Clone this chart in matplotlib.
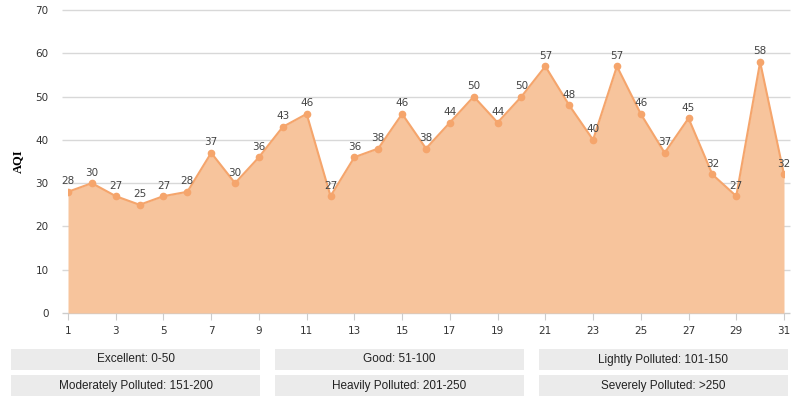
import matplotlib.pyplot as plt
from matplotlib.patches import Rectangle

# daily AQI values
days = list(range(1, 32))
aqi = [28, 30, 27, 25, 27, 28, 37, 30, 36, 43, 46, 27, 36, 38, 46, 38,
       44, 50, 44, 50, 57, 48, 40, 57, 46, 37, 45, 32, 27, 58, 32]
xticks = list(range(1, 32, 2))
yticks = list(range(0, 71, 10))

# legend boxes below chart
levels = ["Excellent: 0-50", "Good: 51-100", "Lightly Polluted: 101-150",
          "Moderately Polluted: 151-200", "Heavily Polluted: 201-250",
          "Severely Polluted: >250"]

line_col = "#F5A56C"
fill_col = "#F7C49C"

fig = plt.figure(figsize=(8, 4), dpi=100)
ax = fig.add_axes([0.085, 0.2175, 0.895, 0.7575])

ax.fill_between(days, aqi, 0, color=fill_col, linewidth=0)
ax.plot(days, aqi, color=line_col, linewidth=1.5, marker="o", markersize=4.5)
for d, v in zip(days, aqi):
    ax.annotate(str(v), (d, v), xytext=(0, 4), textcoords="offset points",
                ha="center", va="bottom", fontsize=7.5, color="#444444")

ax.set_xlim(1, 31)
ax.set_ylim(0, 70)
ax.set_xticks(xticks)
ax.set_yticks(yticks)
# grid lines run a little past the plot on the left
ax.hlines(yticks[1:], 0.75, 31.25, color="#d8d8d8", linewidth=1, zorder=0,
          clip_on=False)
ax.hlines(0, 0.75, 31.25, color="#cccccc", linewidth=1, zorder=0, clip_on=False)

for s in ax.spines.values():
    s.set_visible(False)
ax.tick_params(axis="y", length=0, labelsize=7.5, colors="#333333", pad=14)
ax.tick_params(axis="x", length=5, color="#cccccc", labelsize=7.5,
               labelcolor="#333333", pad=4)
ax.set_ylabel("AQI", fontsize=9, fontweight="bold", family="Liberation Serif",
              labelpad=8)

# level boxes
box_w, box_h = 249 / 800, 21 / 400
xs = [11 / 800, 275 / 800, 539 / 800]
ys = [1 - 370 / 400, 1 - 396 / 400]
for i, txt in enumerate(levels):
    x0 = xs[i % 3]
    y0 = ys[i // 3]
    fig.patches.append(Rectangle((x0, y0), box_w, box_h, transform=fig.transFigure,
                                 facecolor="#ebebeb", edgecolor="none"))
    fig.text(x0 + box_w / 2, y0 + box_h / 2, txt, ha="center", va="center",
             fontsize=8.5, family="Liberation Sans", color="#222222")

fig.savefig("out.png", dpi=100)
